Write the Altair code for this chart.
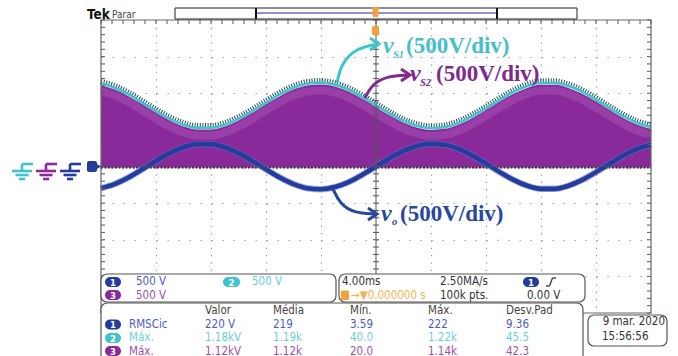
import altair as alt
import pandas as pd
import numpy as np

# ---------------- waveform values read from the screen ----------------
# time in ms (4 ms/div, 10 div, trigger at centre), volts
t_ms = list(range(-20, 21))
vo_volts = [-296, -240, -150, -39, 77, 183, 263, 305, 305, 263,
            183, 77, -39, -150, -240, -296, -310, -281, -213, -114,
            0, 114, 213, 281, 310, 296, 240, 150, 39, -77,
            -183, -263, -305, -305, -263, -183, -77, 39, 150, 240, 296]
vs2_top = [1106, 1050, 960, 849, 733, 627, 547, 505, 505, 547,
           627, 733, 849, 960, 1050, 1106, 1120, 1091, 1023, 924,
           810, 696, 597, 529, 500, 514, 570, 660, 771, 887,
           993, 1073, 1115, 1115, 1073, 993, 887, 771, 660, 570, 514]
vs1_top = [1130, 1075, 985, 872, 757, 650, 570, 528, 528, 570,
           650, 757, 872, 985, 1075, 1130, 1145, 1115, 1048, 948,
           835, 720, 620, 553, 524, 538, 594, 684, 795, 911,
           1018, 1098, 1140, 1140, 1098, 1018, 911, 795, 684, 594, 538]

# ---------------- readout texts ----------------
ch_scales = ["500 V", "500 V", "500 V"]
timebase = ["4.00ms", "2.50MA/s", "0.000000 s", "100k pts.", "0.00 V"]
meas_header = ["Valor", "Média", "Mín.", "Máx.", "Desv.Pad"]
meas_names = ["RMSCic", "Máx.", "Máx."]
meas_rows = [["220 V", "219", "3.59", "222", "9.36"],
             ["1.18kV", "1.19k", "40.0", "1.22k", "45.5"],
             ["1.12kV", "1.12k", "20.0", "1.14k", "42.3"]]
date_txt = ["9 mar. 2020", "15:56:56"]

# ---------------- styling ----------------
C1, C2, C3 = "#243c9c", "#3fc4cc", "#8a2a9a"
T1, T2, T3 = "#4a5cc4", "#6ccfd6", "#9e4fab"
ORANGE = "#f2a13a"
SERIF = "Liberation Serif"
UI = "Liberation Sans Narrow, DejaVu Sans Condensed, Roboto, sans-serif"

W, H = 550, 293
OX, OY = 101, 20

wave = pd.DataFrame({"t": t_ms, "vo": vo_volts, "s2": vs2_top, "s1": vs1_top})

xscale = alt.Scale(domain=[-20, 20], nice=False, zero=False)
yscale = alt.Scale(domain=[-2000, 2000], nice=False, zero=False)
xaxis = alt.Axis(values=[-16, -12, -8, -4, 4, 8, 12, 16], grid=True, labels=False,
                 ticks=False, domain=False, title=None, gridColor="#969696",
                 gridDash=[1.3, 6.03], gridWidth=1.2)
yaxis = alt.Axis(values=[-1500, -1000, -500, 500, 1000, 1500], grid=True, labels=False,
                 ticks=False, domain=False, title=None, gridColor="#969696",
                 gridDash=[1.3, 9.7], gridWidth=1.2)


def X(f="t"):
    return alt.X(f"{f}:Q", scale=xscale, axis=xaxis)


def Y(f):
    return alt.Y(f"{f}:Q", scale=yscale, axis=yaxis)


def PX(f="x"):
    return alt.X(f"{f}:Q", scale=None, axis=None)


def PY(f="y"):
    return alt.Y(f"{f}:Q", scale=None, axis=None)


layers = []

# ---- waveforms ----
base = alt.Chart(wave)
layers.append(base.mark_line(interpolate="monotone", color="#1a4f56", strokeWidth=5,
                             strokeDash=[1, 1.6], yOffset=-2.2).encode(x=X(), y=Y("s1")))
layers.append(base.mark_line(interpolate="monotone", color=C2, strokeWidth=2.6).encode(x=X(), y=Y("s1")))
layers.append(base.mark_area(interpolate="monotone", color=C3, opacity=1).encode(
    x=X(), y=Y("s2"), y2=alt.datum(-12)))
layers.append(base.mark_line(interpolate="monotone", color="#a553b6", strokeWidth=8,
                             opacity=0.5, yOffset=6).encode(x=X(), y=Y("s2")))
layers.append(alt.Chart(pd.DataFrame({"v": [-12]})).mark_rule(
    color="#4b1760", strokeWidth=2, strokeDash=[2, 1.5]).encode(
    y=Y("v"), x=alt.value(0), x2=alt.value(W)))
layers.append(base.mark_line(interpolate="monotone", color="#5e72c4", strokeWidth=6.5,
                             opacity=0.55).encode(x=X(), y=Y("vo")))
layers.append(base.mark_line(interpolate="monotone", color=C1, strokeWidth=4.6).encode(x=X(), y=Y("vo")))

# ---- graticule: centre lines, ticks, border ----
minor_t = pd.DataFrame({"t": np.arange(-20, 20.01, 0.8)})
minor_v = pd.DataFrame({"v": np.arange(-2000, 2000.1, 100)})
cx, cy = W / 2, H / 2
layers.append(alt.Chart(pd.DataFrame({"t": [0]})).mark_rule(color="#555", strokeWidth=1).encode(
    x=X(), y=alt.value(0), y2=alt.value(H)))
layers.append(alt.Chart(pd.DataFrame({"v": [0]})).mark_rule(color="#555", strokeWidth=1, opacity=0.6).encode(
    y=Y("v"), x=alt.value(0), x2=alt.value(W)))
layers.append(alt.Chart(minor_v).mark_rule(color="#555", strokeWidth=1).encode(
    y=Y("v"), x=alt.value(cx - 3), x2=alt.value(cx + 3)))
layers.append(alt.Chart(minor_t).mark_rule(color="#555", strokeWidth=1, opacity=0.6).encode(
    x=X(), y=alt.value(cy - 3), y2=alt.value(cy + 3)))
layers.append(alt.Chart(minor_t).mark_rule(color="#555", strokeWidth=1).encode(
    x=X(), y=alt.value(0), y2=alt.value(4)))
layers.append(alt.Chart(minor_v).mark_rule(color="#555", strokeWidth=1).encode(
    y=Y("v"), x=alt.value(0), x2=alt.value(4)))
layers.append(alt.Chart(minor_v).mark_rule(color="#555", strokeWidth=1).encode(
    y=Y("v"), x=alt.value(W - 4), x2=alt.value(W)))
layers.append(alt.Chart(pd.DataFrame({"a": [0]})).mark_rect(
    fillOpacity=0, stroke="#666", strokeWidth=1.2).encode(
    x=alt.value(0), x2=alt.value(W), y=alt.value(0), y2=alt.value(H)))


# ---------------- decorations in screen pixels ----------------
def rect_df(items):
    return pd.DataFrame([{"x": a - OX, "x2": b - OX, "y": c - OY, "y2": d - OY, "f": f}
                         for a, b, c, d, f in items])


def seg_df(items):
    return pd.DataFrame([{"x": a - OX, "y": b - OY, "x2": c - OX, "y2": d - OY, "c": col, "w": w}
                         for a, b, c, d, col, w in items])


def txt_df(items):
    return pd.DataFrame([{"x": a - OX, "y": b - OY, "s": s, "c": col} for a, b, s, col in items])


def rects(items, **kw):
    return alt.Chart(rect_df(items)).mark_rect(**kw).encode(
        x=PX("x"), x2=alt.X2("x2:Q"), y=PY("y"), y2=alt.Y2("y2:Q"),
        fill=alt.Fill("f:N", scale=None))


def segs(items):
    return alt.Chart(seg_df(items)).mark_rule().encode(
        x=PX("x"), x2=alt.X2("x2:Q"), y=PY("y"), y2=alt.Y2("y2:Q"),
        color=alt.Color("c:N", scale=None), strokeWidth=alt.StrokeWidth("w:Q", scale=None))


def texts(items, **kw):
    return alt.Chart(txt_df(items)).mark_text(**kw).encode(
        x=PX("x"), y=PY("y"), text="s:N", color=alt.Color("c:N", scale=None))


# annotation arrows
arrow_paths = {
    "a1": ([(337, 83), (341, 64), (356, 48), (378, 44)], C2),
    "a2": ([(365, 98), (372, 84), (388, 76), (408, 75)], "#7e2a8f"),
    "a3": ([(333, 189), (340, 204), (354, 213), (375, 214)], "#2747a0"),
}
arrow_heads = {
    "h1": ([(370, 38), (379, 44), (370, 50)], C2),
    "h2": ([(401, 69), (410, 75), (401, 81)], "#7e2a8f"),
    "h3": ([(368, 208), (377, 214), (368, 220)], "#2747a0"),
}


def path_df(d):
    rows = []
    for k, (pts, col) in d.items():
        for i, (x, y) in enumerate(pts):
            rows.append({"id": k, "o": i, "x": x - OX, "y": y - OY, "c": col})
    return pd.DataFrame(rows)


layers.append(alt.Chart(path_df(arrow_paths)).mark_line(interpolate="basis", strokeWidth=3).encode(
    x=PX("x"), y=PY("y"), color=alt.Color("c:N", scale=None), detail="id:N", order="o:Q"))
layers.append(alt.Chart(path_df(arrow_heads)).mark_line(strokeWidth=3, strokeJoin="miter").encode(
    x=PX("x"), y=PY("y"), color=alt.Color("c:N", scale=None), detail="id:N", order="o:Q"))

# annotation labels
layers.append(texts([(383, 53, "v", "#45bfc9"), (410, 81, "v", "#7e2a8f"), (381, 221, "v", "#2747a0")],
                    font=SERIF, fontSize=24, fontWeight="bold", fontStyle="italic",
                    align="left", baseline="alphabetic"))
layers.append(texts([(393, 58, "S1", "#45bfc9"), (420, 86, "S2", "#7e2a8f"), (392, 225, "o", "#2747a0")],
                    font=SERIF, fontSize=10.5, fontWeight="bold", fontStyle="italic",
                    align="left", baseline="alphabetic"))
layers.append(texts([(406, 53, "(500V/div)", "#45bfc9"), (436, 81, "(500V/div)", "#7e2a8f"),
                     (400, 221, "(500V/div)", "#2747a0")],
                    font=SERIF, fontSize=23, fontWeight="bold", align="left", baseline="alphabetic"))

# top status bar
layers.append(rects([(175, 577, 8, 19, "white")], stroke="#222", strokeWidth=1))
layers.append(segs([(256, 13, 497, 13, "#7a66c8", 1.5),
                    (256, 8, 256, 19, "#111", 2), (497, 8, 497, 19, "#111", 2)]))
layers.append(rects([(372.5, 378.5, 7, 17, ORANGE), (372, 379, 26, 35, ORANGE)], cornerRadius=1.5))
layers.append(texts([(87, 19, "Tek", "#111")], font="Liberation Sans Narrow, DejaVu Sans Condensed, sans-serif",
                    fontSize=13.5, fontWeight="bold", align="left", baseline="alphabetic"))
layers.append(texts([(112, 18, "Parar", "#444")], font=UI, fontSize=10,
                    align="left", baseline="alphabetic"))

# ground markers on the left
gsegs = []
for dx, col in [(0, C2), (24, C3), (48, C1)]:
    gsegs += [(22 + dx, 164, 33 + dx, 164, col, 2.6), (22 + dx, 164, 22 + dx, 171, col, 2.6),
              (12 + dx, 171, 32 + dx, 171, col, 2.6), (15.5 + dx, 175, 28.5 + dx, 175, col, 2.6),
              (19 + dx, 179, 25 + dx, 179, col, 2.6)]
layers.append(segs(gsegs))
layers.append(rects([(87, 97, 161, 172, C1)], cornerRadius=2))
layers.append(alt.Chart(pd.DataFrame({"x": [97.5 - OX], "y": [166.5 - OY]})).mark_point(
    shape="triangle-right", filled=True, color=C1, size=70, opacity=1).encode(x=PX("x"), y=PY("y")))

# readout panels
layers.append(rects([(101, 336, 274, 302, "white"), (339, 585, 274, 302, "white"),
                     (101, 583, 303, 366, "white"), (588, 667, 315, 346, "white")],
                    stroke="#555", strokeWidth=1.2, cornerRadius=6))
pills = [(105, 121, 277, 287, C1, "1"), (223, 240, 277, 287, C2, "2"), (105, 121, 290, 300, C3, "3"),
         (523, 539, 277, 287, C1, "1"), (105, 121, 319.5, 329.5, C1, "1"),
         (105, 121, 333, 343, C2, "2"), (105, 121, 346, 356, C3, "3")]
layers.append(rects([(a, b, c, d, f) for a, b, c, d, f, _ in pills], cornerRadius=5))
layers.append(rects([(341, 349, 290.5, 300, ORANGE)], cornerRadius=1.5))
layers.append(texts([((a + b) / 2, (c + d) / 2 + 0.5, s, "white") for a, b, c, d, f, s in pills],
                    font=UI, fontSize=9.5, fontWeight="bold", align="center", baseline="middle"))
layers.append(segs([(546, 286, 549.5, 286, "#333", 1.3), (549.5, 286, 552.5, 278, "#333", 1.3),
                    (552.5, 278, 556, 278, "#333", 1.3)]))

ui_items = [
    (136, 282, ch_scales[0], T1), (252, 282, ch_scales[1], T2), (136, 295.5, ch_scales[2], T3),
    (342, 282, timebase[0], "#333"), (440, 282, timebase[1], "#333"),
    (351, 295.5, "→▼" + timebase[2], "#f5b24c"), (440, 295.5, timebase[3], "#333"),
    (527, 295.5, timebase[4], "#333"),
    (602, 337, date_txt[1], "#333"),
]
cols = [205, 273, 350, 428, 506]
for cx_, h in zip(cols, meas_header):
    ui_items.append((cx_, 311, h, "#444"))
for r, (nm, row, col) in enumerate(zip(meas_names, meas_rows, [T1, T2, T3])):
    yy = [324.5, 338, 351.5][r]
    ui_items.append((129, yy, nm, col))
    for cx_, val in zip(cols, row):
        ui_items.append((cx_, yy, val, col))
layers.append(texts(ui_items, font=UI, fontSize=11.5, align="left", baseline="middle"))
layers.append(texts([(665, 321.5, date_txt[0], "#333")], font=UI, fontSize=11.5,
                    align="right", baseline="middle"))

chart = alt.layer(*layers).properties(
    width=W, height=H,
    autosize=alt.AutoSizeParams(type="none"),
    padding={"left": OX, "top": OY, "right": 678 - OX - W, "bottom": 356 - OY - H},
    background="white",
).configure_view(stroke=None)

chart.save("out.html", embed_options={"renderer": "svg", "actions": False})
